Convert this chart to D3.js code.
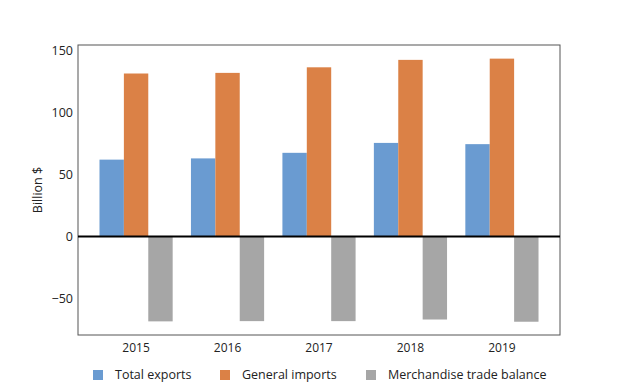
<!DOCTYPE html>
<html>
<head>
<meta charset="utf-8">
<script src="https://cdn.jsdelivr.net/npm/d3@7"></script>
<style>
  body { margin: 0; background: #fff; }
  text { font-family: "Open Sans", "Noto Sans", sans-serif; fill: #222; }
</style>
</head>
<body>
<div id="chart-area"></div>
<script>
// data
const years = ["2015", "2016", "2017", "2018", "2019"];
const seriesNames = ["Total exports", "General imports", "Merchandise trade balance"];
const totalExports = [62, 63, 67.5, 75.5, 74.5];
const generalImports = [131.5, 132, 136.5, 142.5, 143.5];
const tradeBalance = [-68.5, -68.3, -68.3, -67, -68.8];
const yTicks = [-50, 0, 50, 100, 150];

const colours = ["#6a9bd1", "#db8146", "#a6a6a6"];

const W = 622, H = 384;
const plot = {left: 78, right: 560, top: 45, bottom: 335};

const svg = d3.select("#chart-area")
  .append("svg")
    .attr("width", W)
    .attr("height", H);

const x = d3.scaleBand()
  .domain(years)
  .range([plot.left, plot.right])
  .paddingInner(0.2)
  .paddingOuter(0.235);

const xs = d3.scaleBand()
  .domain(seriesNames)
  .range([0, x.bandwidth()]);

const y = d3.scaleLinear()
  .domain([-79.5, 154.5])
  .range([plot.bottom, plot.top]);

const rows = years.map((yr, i) => ({
  year: yr,
  values: [totalExports[i], generalImports[i], tradeBalance[i]]
}));

// bars
const groups = svg.append("g").selectAll("g")
  .data(rows)
  .join("g")
    .attr("transform", d => `translate(${x(d.year)},0)`);

groups.selectAll("rect")
  .data(d => d.values.map((v, j) => ({name: seriesNames[j], v: v, j: j})))
  .join("rect")
    .attr("x", d => xs(d.name))
    .attr("width", xs.bandwidth())
    .attr("y", d => y(Math.max(0, d.v)))
    .attr("height", d => Math.abs(y(d.v) - y(0)))
    .attr("fill", d => colours[d.j]);

// frame
svg.append("rect")
  .attr("x", plot.left).attr("y", plot.top)
  .attr("width", plot.right - plot.left).attr("height", plot.bottom - plot.top)
  .attr("fill", "none")
  .attr("stroke", "#555")
  .attr("stroke-width", 1);

// zero line
svg.append("line")
  .attr("x1", plot.left).attr("x2", plot.right)
  .attr("y1", y(0)).attr("y2", y(0))
  .attr("stroke", "#000")
  .attr("stroke-width", 2);

// Y axis
const yaxis = svg.append("g")
  .attr("transform", `translate(${plot.left},0)`)
  .call(d3.axisLeft(y).tickValues(yTicks).tickSize(0).tickPadding(5).tickFormat(d => d < 0 ? "\u2212" + Math.abs(d) : d));
yaxis.select(".domain").remove();
yaxis.selectAll("text")
  .style("font-size", "12.5px")
  .attr("fill", "#222")
  .attr("font-family", "Open Sans, Noto Sans, sans-serif");

// X axis
const xaxis = svg.append("g")
  .attr("transform", `translate(0,${plot.bottom})`)
  .call(d3.axisBottom(x).tickSize(0).tickPadding(8));
xaxis.select(".domain").remove();
xaxis.selectAll("text")
  .style("font-size", "12px")
  .attr("fill", "#222")
  .attr("font-family", "Open Sans, Noto Sans, sans-serif");

// Y title
svg.append("text")
  .attr("transform", `translate(38,${(plot.top + plot.bottom) / 2}) rotate(-90)`)
  .attr("text-anchor", "middle")
  .attr("dy", "0.35em")
  .style("font-size", "12.5px")
  .text("Billion $");

// legend
const legendX = [93, 220, 366];
const legend = svg.append("g");
seriesNames.forEach((name, i) => {
  const item = legend.append("g")
    .attr("transform", `translate(${legendX[i]},370)`);
  item.append("rect")
    .attr("width", 10).attr("height", 10)
    .attr("fill", colours[i]);
  item.append("text")
    .attr("x", 22)
    .attr("y", 5)
    .attr("dy", "0.35em")
    .style("font-size", "12.5px")
    .text(name);
});
</script>
</body>
</html>
